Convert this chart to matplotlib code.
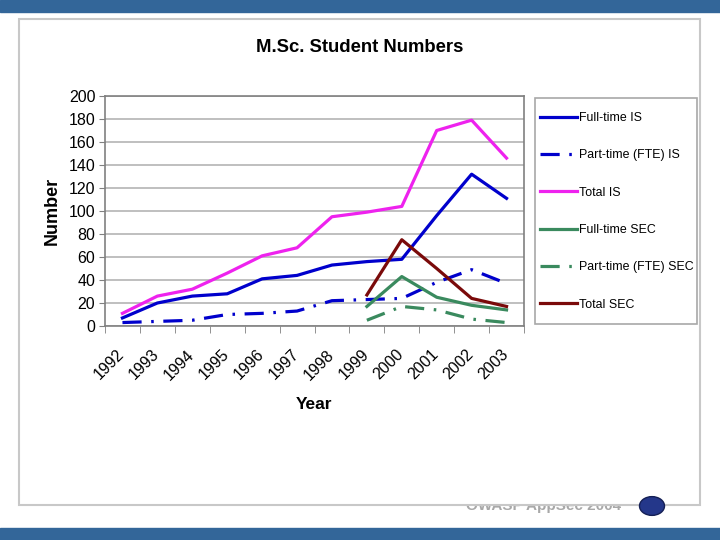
import numpy as np
import matplotlib
matplotlib.use("Agg")
import matplotlib.pyplot as plt
import matplotlib.transforms as mtransforms
from matplotlib.patches import Rectangle, Circle

plt.rcParams['font.family'] = ['Liberation Sans', 'DejaVu Sans']

# data
years = ['1992', '1993', '1994', '1995', '1996', '1997',
         '1998', '1999', '2000', '2001', '2002', '2003']
full_is = [7, 20, 26, 28, 41, 44, 53, 56, 58, 96, 132, 111]
part_is = [3, 4, 5, 10, 11, 13, 22, 23, 24, 38, 49, 37]
total_is = [11, 26, 32, 46, 61, 68, 95, 99, 104, 170, 179, 146]
sec_years = ['1999', '2000', '2001', '2002', '2003']
full_sec = [17, 43, 25, 18, 14]
part_sec = [5, 17, 14, 6, 3]
total_sec = [27, 75, 50, 24, 17]

W, H = 720, 540
fig = plt.figure(figsize=(7.2, 5.4), dpi=100)

def fx(px):
    return px / W

def fy(py):
    return 1 - py / H

# slide decoration
slide_blue = '#336699'
fig.patches.append(Rectangle((0, fy(12)), 1, 12 / H, transform=fig.transFigure,
                             color=slide_blue, zorder=-5))
fig.patches.append(Rectangle((0, 0), 1, (H - 528) / H, transform=fig.transFigure,
                             color=slide_blue, zorder=-5))
fig.text(fx(544), fy(506), 'OWASP AppSec 2004', ha='center', va='center',
         fontsize=11, fontweight='bold', color='#a8a8a8', zorder=-4)
fig.patches.append(Rectangle((fx(19), fy(505)), fx(700 - 19), (505 - 19) / H,
                             transform=fig.transFigure, facecolor='white',
                             edgecolor='#c8c8c8', lw=1.5, zorder=-3))
fig.patches.append(Circle((fx(652), fy(506)), 12.5 / W, transform=fig.transFigure,
                          facecolor='#24378a', edgecolor='#141f55', lw=1, zorder=5))
# legend frame
fig.patches.append(Rectangle((fx(535), fy(324)), fx(697 - 535), (324 - 98) / H,
                             transform=fig.transFigure, facecolor='white',
                             edgecolor='#a8a8a8', lw=1.2, zorder=-2))

ax = fig.add_axes([fx(105), fy(326), fx(524 - 105), (326 - 96) / H])
ax.set_zorder(1)

x = np.arange(len(years))
xs = np.array([years.index(y) for y in sec_years])
dashdot = (6, 3, 0.8, 3)
lw = 2.3

ax.plot(x, full_is, color='#0000cc', lw=lw, label='Full-time IS')
ax.plot(x, part_is, color='#0000cc', lw=lw, dashes=dashdot, label='Part-time (FTE) IS')
ax.plot(x, total_is, color='#ee22ee', lw=lw, label='Total IS')
ax.plot(xs, full_sec, color='#3a8a5e', lw=lw, label='Full-time SEC')
ax.plot(xs, part_sec, color='#3a8a5e', lw=lw, dashes=dashdot, label='Part-time (FTE) SEC')
ax.plot(xs, total_sec, color='#7a0a0a', lw=lw, label='Total SEC')

ax.set_xlim(-0.5, len(years) - 0.5)
ax.set_ylim(0, 200)
ax.set_yticks(np.arange(0, 201, 20))
ax.tick_params(axis='y', labelsize=11.5, length=4, color='#808080', pad=3)
ax.yaxis.grid(True, color='#b4b4b4', lw=1.2)
ax.set_axisbelow(True)

ax.set_xticks(x)
ax.set_xticklabels(years, rotation=45, ha='right', va='top',
                   rotation_mode='anchor', fontsize=11.5)
ax.set_xticks(np.arange(-0.5, len(years), 1), minor=True)
ax.tick_params(axis='x', which='major', length=0, pad=15)
ax.tick_params(axis='x', which='minor', length=5, color='#808080')
shift = mtransforms.ScaledTranslation(-6 / 100, 0, fig.dpi_scale_trans)
for lab in ax.get_xticklabels():
    lab.set_transform(lab.get_transform() + shift)

for s in ax.spines.values():
    s.set_color('#808080')
    s.set_linewidth(1.2)

ax.set_xlabel('Year', fontsize=12.5, fontweight='bold', labelpad=10)
ax.set_ylabel('Number', fontsize=13, fontweight='bold', labelpad=5.5)

fig.text(fx(360), fy(47), 'M.Sc. Student Numbers', ha='center', va='center',
         fontsize=13.3, fontweight='bold')

leg = fig.legend(loc='upper left', bbox_to_anchor=(fx(540), fy(112)),
                 fontsize=8.9, frameon=False, borderaxespad=0, borderpad=0,
                 labelspacing=2.05, handlelength=3.0, handletextpad=0.15)

fig.savefig('out.png', dpi=100)
